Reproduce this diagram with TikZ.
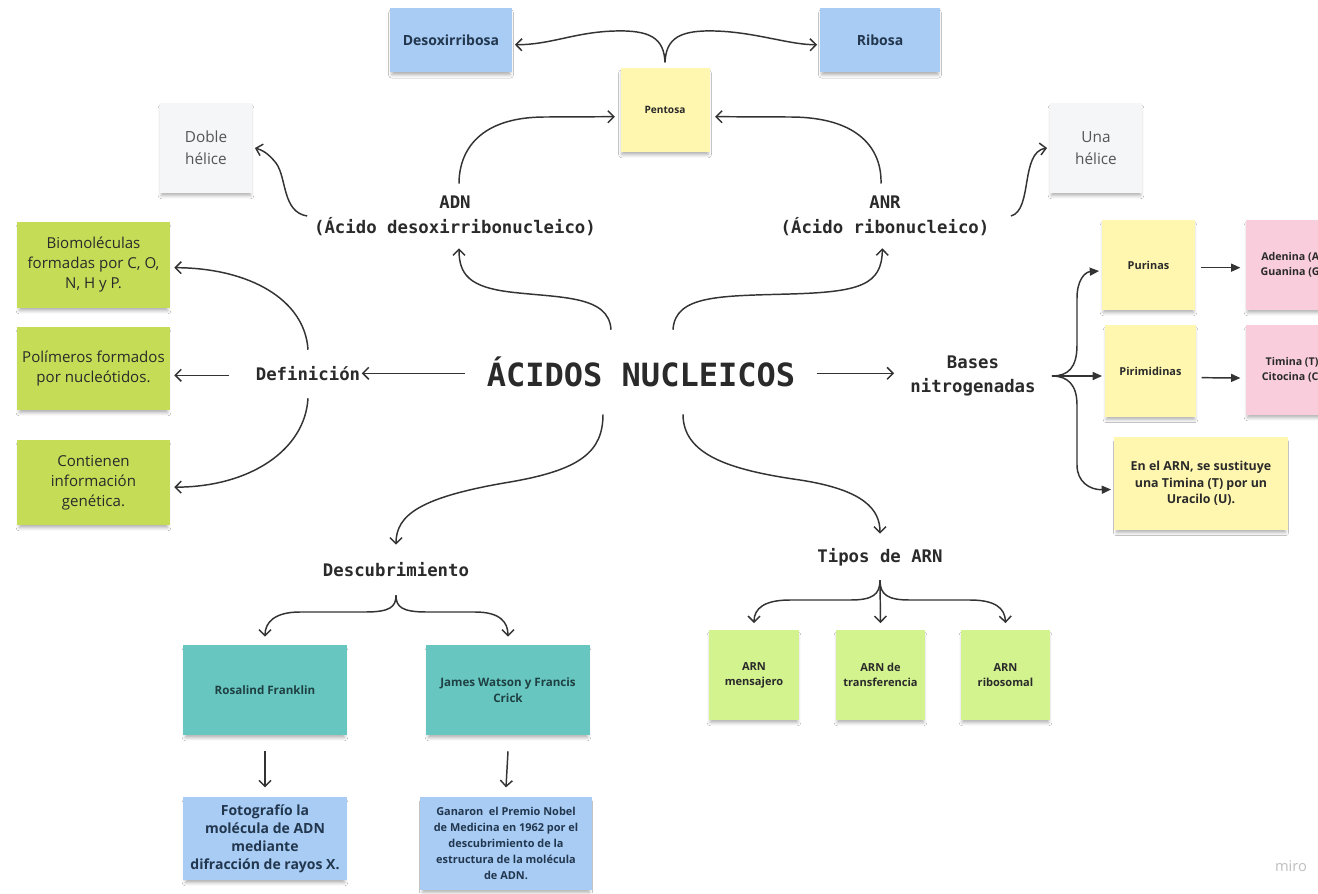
\documentclass[tikz,border=0pt]{standalone}
\usepackage{fontspec}
\setmainfont{Open Sans}
\newfontfamily\notefont{Open Sans}
\newfontfamily\monofont{DejaVu Sans Mono}
\usetikzlibrary{arrows.meta,shadows.blur}

\definecolor{stickyblue}{HTML}{A8CCF4}
\definecolor{stickyyellow}{HTML}{FFF7B0}
\definecolor{stickygray}{HTML}{F5F6F8}
\definecolor{stickypink}{HTML}{F9CDDC}
\definecolor{stickyteal}{HTML}{67C6C0}
\definecolor{stickylime}{HTML}{D3F38F}
\definecolor{stickygreen}{HTML}{C5DC56}
\definecolor{ink}{HTML}{2A2A2A}
\definecolor{blueink}{HTML}{22364E}
\definecolor{tealink}{HTML}{1F4042}
\definecolor{grayink}{HTML}{555555}
\definecolor{wire}{HTML}{333333}

\tikzset{
  note/.style={rectangle, inner sep=2pt, align=center, text=ink,
    blur shadow={shadow xshift=0pt, shadow yshift=-3pt, shadow opacity=32,
      shadow blur radius=2.5pt, shadow scale=0.97}},
  box/.style 2 args={minimum width=#1, minimum height=#2},
  mono/.style={inner sep=0pt, align=center, text=ink,
    font=\monofont\bfseries\fontsize{13}{18.75}\selectfont},
  link/.style={draw=wire, line width=1.1pt,
    -{Straight Barb[length=4.5pt,width=9pt,line width=1.1pt]}},
  flink/.style={draw=wire, line width=1.1pt, -{Triangle[length=7pt,width=6pt]}},
}

\begin{document}
\begin{tikzpicture}[x=0.75pt, y=-0.75pt]
\useasboundingbox (0,0) rectangle (1318,893);
\clip (0,0) rectangle (1318,893);
\fill[white] (0,0) rectangle (1318,893);

% ---- sugars ----
\node[note, fill=stickyblue, box={91.5pt}{48pt}, text=blueink,
  font=\notefont\bfseries\fontsize{10.5}{13}\selectfont] (desoxi) at (451,40) {Desoxirribosa};
\node[note, fill=stickyblue, box={90pt}{48pt}, text=blueink,
  font=\notefont\bfseries\fontsize{10.5}{13}\selectfont] (ribosa) at (880,40) {Ribosa};
\node[note, fill=stickyyellow, box={66.75pt}{63pt},
  font=\notefont\bfseries\fontsize{7.6}{9}\selectfont] (pentosa) at (665,110) {Pentosa};

% ---- helices ----
\node[note, fill=stickygray, box={69pt}{67.5pt}, text=grayink,
  font=\notefont\fontsize{11.5}{16.5}\selectfont] (doble) at (206,148) {Doble\\hélice};
\node[note, fill=stickygray, box={69pt}{67.5pt}, text=grayink,
  font=\notefont\fontsize{11.5}{16.5}\selectfont] (una) at (1096,148) {Una\\hélice};

% ---- definition ----
\node[note, fill=stickygreen, box={114.75pt}{64.5pt},
  font=\notefont\fontsize{11.3}{15}\selectfont] (biomol) at (93.5,265)
  {Biomoléculas\\formadas por C, O,\\N, H y P.};
\node[note, fill=stickygreen, box={114.75pt}{62.25pt},
  font=\notefont\fontsize{11.3}{15}\selectfont] (polim) at (93.5,368.5)
  {Polímeros formados\\por nucleótidos.};
\node[note, fill=stickygreen, box={114.75pt}{63.75pt},
  font=\notefont\fontsize{11.3}{15}\selectfont] (conti) at (93.5,482.5)
  {Contienen\\información\\genética.};

% ---- nitrogen bases ----
\node[note, fill=stickyyellow, box={69.75pt}{67.5pt},
  font=\notefont\bfseries\fontsize{8.2}{10}\selectfont] (purinas) at (1148.5,265) {Purinas};
\node[note, fill=stickyyellow, box={68.25pt}{69pt},
  font=\notefont\bfseries\fontsize{8.2}{10}\selectfont] (pirimid) at (1150.5,371) {Pirimidinas};
\node[note, fill=stickypink, box={69pt}{67.5pt},
  font=\notefont\bfseries\fontsize{8}{11.5}\selectfont] (adenina) at (1292,265)
  {Adenina (A)\\Guanina (G)};
\node[note, fill=stickypink, box={69pt}{67.5pt},
  font=\notefont\bfseries\fontsize{8}{11.5}\selectfont] (timina) at (1292,370)
  {Timina (T)\\Citocina (C)};
\node[note, fill=stickyyellow, box={130.5pt}{69.75pt},
  font=\notefont\bfseries\fontsize{9.3}{12.5}\selectfont] (enarn) at (1201,483.5)
  {En el ARN, se sustituye\\una Timina (T) por un\\Uracilo (U).};

% ---- discovery ----
\node[note, fill=stickyteal, box={123pt}{67.5pt}, text=tealink,
  font=\notefont\bfseries\fontsize{8.7}{12}\selectfont] (rosalind) at (265,690) {Rosalind Franklin};
\node[note, fill=stickyteal, box={123pt}{67.5pt}, text=tealink,
  font=\notefont\bfseries\fontsize{8.7}{12}\selectfont] (james) at (508,690)
  {James Watson y Francis\\Crick};
\node[note, fill=stickyblue, box={123pt}{62.25pt}, text=blueink,
  font=\notefont\bfseries\fontsize{10.5}{13.5}\selectfont] (foto) at (265,838.5)
  {Fotografío la\\molécula de ADN\\mediante\\difracción de rayos X.};
\node[note, fill=stickyblue, box={129pt}{69.75pt}, text=blueink,
  font=\notefont\bfseries\fontsize{8.2}{12}\selectfont] (ganaron) at (506,843.5)
  {Ganaron\ \ el Premio Nobel\\de Medicina en 1962 por el\\descubrimiento de la\\estructura de la molécula\\de ADN.};

% ---- RNA types ----
\node[note, fill=stickylime, box={67.5pt}{67.5pt},
  font=\notefont\bfseries\fontsize{8.3}{11.25}\selectfont] (arnm) at (754,675) {ARN\\mensajero};
\node[note, fill=stickylime, box={66.75pt}{67.5pt},
  font=\notefont\bfseries\fontsize{8.3}{11.25}\selectfont] (arnt) at (880.5,675) {ARN de\\transferencia};
\node[note, fill=stickylime, box={66.75pt}{67.5pt},
  font=\notefont\bfseries\fontsize{8.3}{11.25}\selectfont] (arnr) at (1005.5,675) {ARN\\ribosomal};

% ---- text labels ----
\node[mono, box={263.25pt}{63pt}, font=\monofont\bfseries\fontsize{24}{28}\selectfont]
  (acidos) at (641,372) {ÁCIDOS NUCLEICOS};
\node[mono, minimum height=48pt] (adn) at (455,216) {ADN\\(Ácido desoxirribonucleico)};
\node[mono, minimum height=48pt] (anr) at (885,216) {ANR\\(Ácido ribonucleico)};
\node[mono, minimum height=36pt] (defin) at (308,374) {Definición};
\node[mono, font=\monofont\bfseries\fontsize{13}{18}\selectfont] (bases) at (973,376)
  {Bases\\nitrogenadas};
\node[mono, minimum height=37.5pt] (descub) at (396,570) {Descubrimiento};
\node[mono, minimum height=34.5pt] (tipos) at (880,557) {Tipos de ARN};

\node[text=black!25, font=\notefont\fontsize{11}{13}\selectfont] (miro) at (1291,866) {miro};

% ---- connectors: sugars ----
\draw[link] ([yshift=4pt]pentosa.north) .. controls (664,38) and (650,30) .. (615,31)
  .. controls (575,32) and (550,45) .. ([xshift=2pt,yshift=-3.5pt]desoxi.east);
\draw[link] ([yshift=4pt]pentosa.north) .. controls (666,38) and (680,30) .. (715,31)
  .. controls (755,32) and (790,45) .. ([xshift=-2pt,yshift=-3.5pt]ribosa.west);
\draw[link] ([xshift=3pt]adn.north) .. controls (459,150) and (480,117) .. (545,117)
  -- ([xshift=-4pt,yshift=-5pt]pentosa.west);
\draw[link] ([xshift=-3pt]anr.north) .. controls (882,150) and (860,117) .. (790,117)
  -- ([xshift=4pt,yshift=-5pt]pentosa.east);

% ---- connectors: helices ----
\draw[link] ([xshift=-5pt]adn.west) .. controls (282,212) and (287,178) .. (276,163)
  .. controls (268,153) and (262,150) .. ([xshift=2pt]doble.east);
\draw[link] ([xshift=16pt]anr.east) .. controls (1033,210) and (1020,152) .. ([xshift=-2pt]una.west);

% ---- connectors: centre ----
\draw[link] ([xshift=-22.5pt]acidos.north) .. controls (609,295) and (560,298) .. (510,292)
  .. controls (470,287) and (459,275) .. ([xshift=3pt]adn.south);
\draw[link] ([xshift=24pt]acidos.north) .. controls (675,295) and (720,296) .. (790,294)
  .. controls (860,292) and (882,285) .. ([xshift=-2pt]anr.south);
\draw[link] ([yshift=-1pt]acidos.west) -- ([xshift=1pt,yshift=-1pt]acidos.west -| defin.east);
\draw[link] ([yshift=-1pt]acidos.east) -- ([xshift=-12pt,yshift=-1pt]acidos.east -| bases.west);
\draw[link] ([xshift=-28.5pt]acidos.south) .. controls (603,452) and (580,470) .. (510,482)
  .. controls (420,497) and (396,515) .. (descub.north);
\draw[link] ([xshift=31.5pt]acidos.south) .. controls (683,455) and (730,470) .. (800,480)
  .. controls (865,490) and (880,510) .. (tipos.north);

% ---- connectors: definition ----
\draw[link] (defin.north) .. controls (305,300) and (250,268) .. ([xshift=3pt,yshift=-2pt]polim.east |- biomol.east);
\draw[link] ([xshift=-20pt,yshift=-1pt]defin.west) -- ([xshift=3pt,yshift=-1pt]polim.east |- defin.west);
\draw[link] (defin.south) .. controls (305,450) and (250,487) .. ([xshift=3pt,yshift=-3.5pt]conti.east);

% ---- connectors: nitrogen bases ----
\draw[flink] ([xshift=12pt]bases.east) .. controls (1068,376) and (1077,368) .. (1077,345)
  -- (1077,298) .. controls (1077,280) and (1085,272) .. ([xshift=-2pt,yshift=-4.5pt]purinas.west);
\draw[flink] ([xshift=12pt]bases.east) -- ([xshift=-2pt]bases.east -| pirimid.west);
\draw[flink] ([xshift=12pt]bases.east) .. controls (1068,376) and (1077,385) .. (1077,405)
  -- (1077,465) .. controls (1077,482) and (1090,490) .. ([xshift=-2pt,yshift=-4.5pt]enarn.west);
\draw[flink] ([xshift=4pt,yshift=-2pt]purinas.east) -- ([xshift=-4pt,yshift=-2pt]adenina.west);
\draw[flink] ([xshift=4pt,yshift=-5pt]pirimid.east) -- ([xshift=-4pt,yshift=-6pt]timina.west);

% ---- connectors: discovery ----
\draw[link] (descub.south) .. controls (396,607) and (390,612) .. (365,612) -- (300,612)
  .. controls (275,612) and (265,622) .. ([yshift=6pt]rosalind.north);
\draw[link] (descub.south) .. controls (396,607) and (402,612) .. (427,612) -- (475,612)
  .. controls (500,612) and (508,622) .. ([yshift=6pt]james.north);
\draw[link] ([yshift=-12pt]rosalind.south) -- ([yshift=7pt]foto.north);
\draw[link] ([yshift=-12pt]james.south) -- ([yshift=7pt]ganaron.north);

% ---- connectors: RNA types ----
\draw[link] (tipos.south) .. controls (880,595) and (872,600) .. (850,600) -- (790,600)
  .. controls (765,600) and (754,608) .. ([yshift=5pt]arnm.north);
\draw[link] (tipos.south) -- ([yshift=5pt]arnt.north);
\draw[link] (tipos.south) .. controls (880,595) and (888,600) .. (910,600) -- (970,600)
  .. controls (995,600) and (1005,608) .. ([yshift=5pt]arnr.north);
\end{tikzpicture}
\end{document}
